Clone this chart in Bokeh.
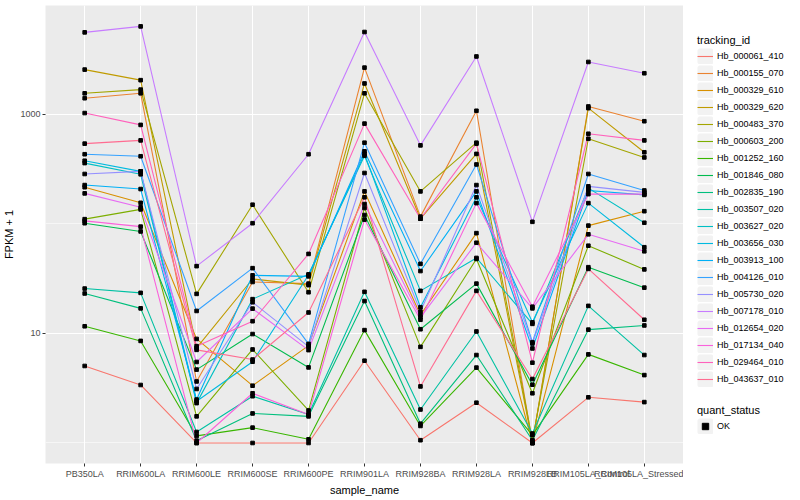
from bokeh.plotting import figure
from bokeh.models import (FactorRange, Range1d, FixedTicker, Legend, LegendItem,
                          PrintfTickFormatter)
from bokeh.layouts import row
from bokeh.embed import file_html
from bokeh.resources import INLINE

sample_names = ["PB350LA", "RRIM600LA", "RRIM600LE", "RRIM600SE", "RRIM600PE",
                "RRIM901LA", "RRIM928BA", "RRIM928LA", "RRIM928LB",
                "RRIM105LA_Control", "RRIM105LA_Stressed"]

tracking_ids = ["Hb_000061_410", "Hb_000155_070", "Hb_000329_610", "Hb_000329_620",
                "Hb_000483_370", "Hb_000603_200", "Hb_001252_160", "Hb_001846_080",
                "Hb_002835_190", "Hb_003507_020", "Hb_003627_020", "Hb_003656_030",
                "Hb_003913_100", "Hb_004126_010", "Hb_005730_020", "Hb_007178_010",
                "Hb_012654_020", "Hb_017134_040", "Hb_029464_010", "Hb_043637_010"]

y_tick_values = [10, 1000]

# FPKM + 1 per sample (same order as sample_names)
hb_000061_410 = [5.04, 3.38, 1.0, 1.0, 1.0, 5.63, 1.06, 2.33, 1.0, 2.61, 2.36]
hb_000155_070 = [1394, 1545, 3.64, 29.4, 28.4, 2650, 116, 1071, 1.0, 1173, 860]
hb_000329_610 = [215, 155, 8.89, 3.33, 7.72, 197, 14.7, 82, 1.0, 96, 130]
hb_000329_620 = [2543, 2037, 7.37, 31.3, 27.5, 1901, 111, 433, 1.0, 1132, 448]
hb_000483_370 = [1545, 1670, 22.9, 149, 23.7, 1545, 197, 548, 1.05, 595, 402]
hb_000603_200 = [110, 135, 1.75, 7.13, 1.98, 139, 7.53, 47.7, 2.84, 63, 38.3]
hb_001252_160 = [11.6, 8.53, 1.16, 1.38, 1.08, 10.7, 1.43, 4.87, 1.18, 6.43, 4.16]
hb_001846_080 = [101, 85, 4.67, 9.85, 4.89, 120, 10.9, 28.4, 3.40, 40.1, 26.1]
hb_002835_190 = [23.1, 16.9, 1.05, 1.86, 1.75, 19.7, 1.50, 6.34, 1.06, 10.8, 11.8]
hb_003507_020 = [25.6, 23.4, 1.26, 2.67, 1.82, 23.9, 2.02, 10.4, 1.22, 17.8, 6.34]
hb_003627_020 = [357, 282, 2.31, 20.5, 34.5, 416, 24.4, 48.7, 12.2, 211, 102]
hb_003656_030 = [375, 300, 2.40, 5.51, 34, 433, 17.3, 174, 12.6, 154, 61]
hb_003913_100 = [225, 207, 2.49, 33.8, 33.1, 457, 37, 197, 7.28, 201, 183]
hb_004126_010 = [430, 412, 16.0, 39.3, 8.01, 548, 43, 347, 8.30, 284, 201]
hb_005730_020 = [284, 300, 3.11, 19.2, 7.56, 290, 15.8, 225, 8.08, 219, 193]
hb_007178_010 = [5560, 6300, 41, 101, 430, 5600, 518, 3350, 104, 2985, 2355]
hb_012654_020 = [189, 141, 5.48, 16.8, 7.03, 151, 14.0, 67, 16.9, 80, 56]
hb_017134_040 = [106, 94, 1.0, 2.84, 1.82, 109, 13.3, 154, 17.5, 186, 186]
hb_029464_010 = [1021, 796, 7.64, 12.9, 53, 818, 111, 537, 5.40, 661, 575]
hb_043637_010 = [537, 575, 7.07, 5.77, 15.5, 174, 3.28, 24.4, 3.83, 38.7, 13.3]

series_values = [hb_000061_410, hb_000155_070, hb_000329_610, hb_000329_620,
                 hb_000483_370, hb_000603_200, hb_001252_160, hb_001846_080,
                 hb_002835_190, hb_003507_020, hb_003627_020, hb_003656_030,
                 hb_003913_100, hb_004126_010, hb_005730_020, hb_007178_010,
                 hb_012654_020, hb_017134_040, hb_029464_010, hb_043637_010]

colors = ["#F8766D", "#EA8331", "#D89000", "#C09B00", "#A3A500", "#7CAE00",
          "#39B600", "#00BB4E", "#00BF7D", "#00C1A3", "#00BFC4", "#00BAE0",
          "#00B0F6", "#35A2FF", "#9590FF", "#C77CFF", "#E76BF3", "#FA62DB",
          "#FF62BC", "#FF6C91"]

FONT = "Liberation Sans"

p = figure(x_range=FactorRange(*sample_names, range_padding=0.2, range_padding_units="absolute"),
           y_axis_type="log", y_range=Range1d(0.65, 9770),
           width=683, height=498, toolbar_location=None, output_backend="svg",
           min_border_top=5, min_border_right=0, min_border_left=0, min_border_bottom=30,
           background_fill_color="#EBEBEB", border_fill_color="white", outline_line_color=None)

for vals, c in zip(series_values, colors):
    p.line(x=sample_names, y=vals, line_color=c, line_width=1.1)
for vals in series_values:
    p.scatter(x=sample_names, y=vals, marker="square", size=3.6, color="black")

p.xaxis.axis_label = "sample_name"
p.yaxis.axis_label = "FPKM + 1"
p.yaxis.ticker = FixedTicker(ticks=y_tick_values, minor_ticks=[1, 100])
p.yaxis.formatter = PrintfTickFormatter(format="%d")
p.axis.axis_line_color = None
p.axis.major_tick_in = 0
p.axis.major_tick_out = 3
p.axis.minor_tick_in = 0
p.axis.minor_tick_out = 0
p.axis.major_tick_line_color = "#333333"
p.axis.major_label_text_font = FONT
p.axis.major_label_text_font_size = "9px"
p.axis.major_label_text_color = "#4D4D4D"
p.axis.major_label_standoff = 2
p.axis.axis_label_text_font = FONT
p.axis.axis_label_text_font_size = "11px"
p.axis.axis_label_text_font_style = "normal"
p.axis.axis_label_text_color = "black"
p.axis.axis_label_standoff = 2
p.xgrid.grid_line_color = "white"
p.xgrid.grid_line_width = 1.1
p.ygrid.grid_line_color = "white"
p.ygrid.grid_line_width = 1.1
p.ygrid.minor_grid_line_color = "white"
p.ygrid.minor_grid_line_width = 0.55

# legend panel
p2 = figure(width=115, height=498, toolbar_location=None, output_backend="svg",
            x_axis_location=None, y_axis_location=None, x_range=(0, 1), y_range=(0, 1),
            min_border=0, outline_line_color=None, background_fill_color="white",
            border_fill_color="white")
p2.grid.visible = False

key_bg = p2.rect(x=[-10], y=[-10], width=0.1, height=0.1, fill_color="#F2F2F2",
                 line_color="#F2F2F2", line_width=3.2)
items = []
for tid, c in zip(tracking_ids, colors):
    ln = p2.line(x=[-10, -9], y=[-10, -9], line_width=1.1, line_color=c)
    items.append(LegendItem(label=tid, renderers=[key_bg, ln]))
ok_pt = p2.scatter(x=[-10], y=[-10], marker="square", size=4, color="black")

def style(leg):
    leg.border_line_color = None
    leg.background_fill_alpha = 0
    leg.padding = 0
    leg.margin = 0
    leg.spacing = 1
    leg.glyph_height = 16
    leg.glyph_width = 16
    leg.label_height = 16
    leg.label_standoff = 4
    leg.label_text_font = FONT
    leg.label_text_font_size = "9px"
    leg.label_text_color = "black"
    leg.title_text_font = FONT
    leg.title_text_font_size = "11px"
    leg.title_text_font_style = "normal"
    leg.title_text_color = "black"
    leg.title_standoff = 2

leg1 = Legend(items=items, title="tracking_id", location=(14, 76))
style(leg1)
p2.add_layout(leg1)
leg2 = Legend(items=[LegendItem(label="OK", renderers=[key_bg, ok_pt])],
              title="quant_status", location=(14, 29))
style(leg2)
p2.add_layout(leg2)

layout = row(p, p2)
open("out.html", "w").write(file_html(layout, INLINE))
